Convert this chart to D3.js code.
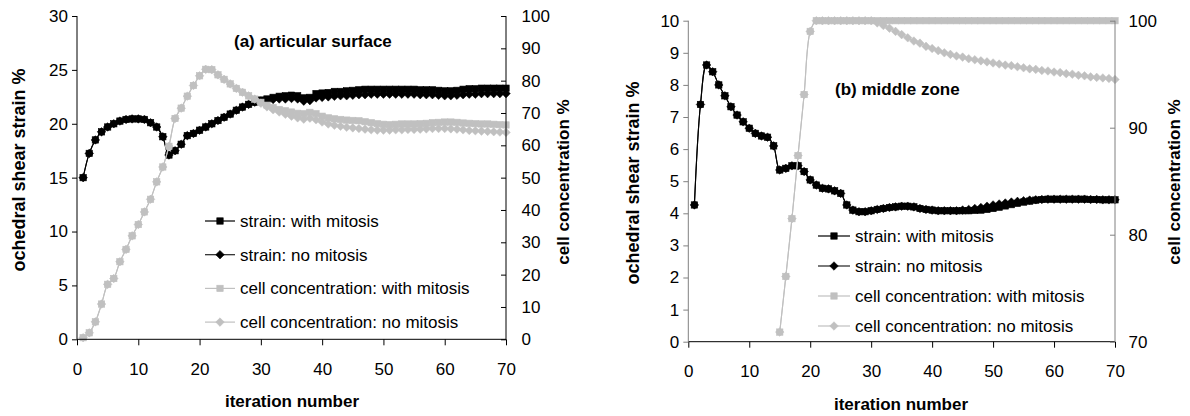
<!DOCTYPE html>
<html><head><meta charset="utf-8">
<script src="https://cdn.jsdelivr.net/npm/d3@7/dist/d3.min.js"></script>
<style>
html,body{margin:0;padding:0;background:#fff;}
text{font-family:"Liberation Sans",Arial,Helvetica,sans-serif;fill:#000;}
</style></head>
<body><svg id="c" width="1190" height="416"></svg>
<script>
// ---------- data ----------
const iterations = d3.range(1, 71);
const xTicks = [0,10,20,30,40,50,60,70];

// (a) articular surface
const aStrainMitosis = [15.0,17.25,18.5,19.25,19.7,20.0,20.25,20.4,20.45,20.45,
 20.4,20.1,19.7,18.8,17.1,17.5,18.1,18.9,19.1,19.4,
 19.7,20.0,20.3,20.6,20.9,21.25,21.55,21.8,22.0,22.2,
 22.3,22.45,22.55,22.6,22.65,22.6,22.4,22.45,22.8,22.85,
 22.9,23.0,23.0,23.05,23.1,23.15,23.2,23.2,23.2,23.2,
 23.2,23.2,23.2,23.2,23.2,23.15,23.15,23.15,23.1,23.05,
 23.05,23.1,23.2,23.25,23.25,23.3,23.3,23.3,23.3,23.3];
const aStrainNoMitosis = [15.0,17.25,18.5,19.25,19.7,20.0,20.25,20.4,20.45,20.45,
 20.4,20.1,19.7,18.8,17.1,17.5,18.1,18.9,19.1,19.4,
 19.7,20.0,20.3,20.6,20.9,21.25,21.55,21.8,22.0,22.1,
 22.15,22.25,22.3,22.3,22.35,22.3,22.1,22.15,22.4,22.45,
 22.5,22.55,22.6,22.6,22.65,22.7,22.7,22.75,22.75,22.75,
 22.75,22.75,22.75,22.75,22.75,22.7,22.7,22.7,22.65,22.6,
 22.6,22.65,22.7,22.75,22.75,22.8,22.8,22.8,22.8,22.8];
const aCellMitosis = [0.5,2.0,5.4,10.9,17.0,18.8,24.0,27.8,32.0,35.5,
 39.4,43.3,48.7,53.3,59.7,68.3,71.5,75.2,78.5,81.5,
 83.5,83.4,81.8,80.4,79.0,77.6,76.4,75.3,74.3,73.3,
 72.4,71.7,71.1,70.7,70.3,69.9,69.8,70.2,69.8,69.0,
 68.5,68.2,68.0,67.8,67.7,67.6,67.3,67.0,66.7,66.5,
 66.4,66.5,66.6,66.6,66.6,66.7,66.8,67.0,67.1,67.2,
 67.2,67.1,66.9,66.8,66.7,66.6,66.6,66.5,66.4,66.3];
const aCellNoMitosis = [0.5,2.0,5.4,10.9,17.0,18.8,24.0,27.8,32.0,35.5,
 39.4,43.3,48.7,53.3,59.7,68.3,71.5,75.2,78.5,81.5,
 83.5,83.4,81.8,80.4,79.0,77.6,76.4,75.3,74.3,73.0,
 71.9,71.0,70.3,69.6,69.0,68.5,68.1,68.4,67.9,67.2,
 66.6,66.2,65.9,65.6,65.4,65.2,65.0,64.8,64.7,64.7,
 64.7,64.8,64.8,64.9,64.9,65.0,65.1,65.2,65.2,65.2,
 65.1,65.0,64.8,64.6,64.5,64.4,64.3,64.2,64.1,64.0];

// (b) middle zone
const bStrainMitosis = [4.26,7.39,8.62,8.41,8.0,7.66,7.32,7.06,6.85,6.65,
 6.49,6.41,6.37,6.1,5.35,5.4,5.48,5.48,5.3,5.04,
 4.88,4.78,4.76,4.7,4.62,4.26,4.1,4.05,4.05,4.08,
 4.12,4.15,4.18,4.2,4.22,4.22,4.2,4.15,4.12,4.1,
 4.08,4.08,4.08,4.08,4.08,4.08,4.09,4.1,4.12,4.15,
 4.19,4.23,4.27,4.31,4.35,4.38,4.41,4.43,4.44,4.44,
 4.44,4.44,4.44,4.44,4.44,4.43,4.43,4.42,4.42,4.42];
const bStrainNoMitosis = [4.26,7.39,8.62,8.41,8.0,7.66,7.32,7.06,6.85,6.65,
 6.49,6.41,6.37,6.1,5.35,5.4,5.48,5.48,5.3,5.04,
 4.88,4.78,4.76,4.7,4.62,4.26,4.1,4.05,4.05,4.08,
 4.12,4.15,4.18,4.2,4.22,4.22,4.2,4.15,4.12,4.1,
 4.08,4.08,4.08,4.08,4.1,4.12,4.15,4.18,4.22,4.26,
 4.29,4.32,4.35,4.37,4.39,4.41,4.42,4.43,4.44,4.44,
 4.44,4.44,4.44,4.44,4.44,4.43,4.43,4.42,4.42,4.42];
const bCellMitosis = [null,null,null,null,null,null,null,null,null,null,
 null,null,null,null,70.9,76.1,81.5,87.4,93.1,99.0,
 100,100,100,100,100,100,100,100,100,100,
 100,100,100,100,100,100,100,100,100,100,
 100,100,100,100,100,100,100,100,100,100,
 100,100,100,100,100,100,100,100,100,100,
 100,100,100,100,100,100,100,100,100,100];
const bCellNoMitosis = [null,null,null,null,null,null,null,null,null,null,
 null,null,null,null,70.9,76.1,81.5,87.4,93.1,99.0,
 100,100,100,100,100,100,100,100,100,100,
 99.8,99.55,99.3,99.0,98.7,98.4,98.1,97.9,97.6,97.4,
 97.2,97.0,96.85,96.7,96.6,96.45,96.35,96.25,96.15,96.05,
 95.95,95.85,95.8,95.7,95.6,95.5,95.45,95.35,95.3,95.2,
 95.15,95.05,95.0,94.9,94.85,94.75,94.7,94.65,94.6,94.5];

const aLeftTicks = [0,5,10,15,20,25,30];
const aRightTicks = [0,10,20,30,40,50,60,70,80,90,100];
const bLeftTicks = [0,1,2,3,4,5,6,7,8,9,10];
const bRightTicks = [70,80,90,100];

const legendLabels = ["strain: with mitosis","strain: no mitosis","cell concentration: with mitosis","cell concentration: no mitosis"];
const seriesColors = ["#000000","#000000","#c0c0c0","#c0c0c0"];
const seriesMarkers = ["square","diamond","square","diamond"];

// ---------- drawing ----------
const svg = d3.select("#c");
const FS = 17;

function marker(g, type, x, y, color){
  if(type === "square"){
    g.append("rect").attr("x", x-3.2).attr("y", y-3.2).attr("width",6.4).attr("height",6.4)
     .attr("fill", color).attr("stroke", color).attr("stroke-width",0.6);
  } else {
    g.append("path").attr("d", `M${x},${y-4.3}L${x+4.3},${y}L${x},${y+4.3}L${x-4.3},${y}Z`)
     .attr("fill", color).attr("stroke", color).attr("stroke-width",0.5);
  }
}

function drawChart(cfg){
  const g = svg.append("g");
  const x = d3.scaleLinear().domain([0,70]).range([cfg.x0, cfg.x1]);
  const yL = d3.scaleLinear().domain(cfg.leftDomain).range([cfg.yBottom, cfg.yTop]);
  const yR = d3.scaleLinear().domain(cfg.rightDomain).range([cfg.yBottom, cfg.yTop]);

  const series = [
    {vals: cfg.s[0], y: yL},
    {vals: cfg.s[1], y: yL},
    {vals: cfg.s[2], y: yR},
    {vals: cfg.s[3], y: yR}
  ];
  series.forEach((s,i)=>{
    const pts = iterations.map((it,k)=>({it, v:s.vals[k]})).filter(d=>d.v!==null);
    const line = d3.line().x(d=>x(d.it)).y(d=>s.y(d.v)).curve(d3.curveCatmullRom.alpha(0.5));
    g.append("path").attr("d", line(pts)).attr("fill","none")
      .attr("stroke", seriesColors[i]).attr("stroke-width",1.1);
    const mg = g.append("g");
    pts.forEach(d=>marker(mg, seriesMarkers[i], x(d.it), s.y(d.v), seriesColors[i]));
  });

  // axes
  const axB = d3.axisBottom(x).tickValues(xTicks).tickSize(6).tickPadding(cfg.xPad);
  const gx = g.append("g").attr("transform",`translate(0,${cfg.yBottom})`).call(axB);
  const axL = d3.axisLeft(yL).tickValues(cfg.leftTicks).tickSize(5).tickPadding(4);
  const gl = g.append("g").attr("transform",`translate(${cfg.x0},0)`).call(axL);
  const axR = d3.axisRight(yR).tickValues(cfg.rightTicks).tickSize(-5).tickPadding(cfg.rPad);
  const gr = g.append("g").attr("transform",`translate(${cfg.x1},0)`).call(axR);
  [gx,gl,gr].forEach(a=>{
    a.selectAll("text").attr("font-size",FS).attr("font-family",'"Liberation Sans",Arial,sans-serif').attr("fill","#000");
    a.select(".domain").attr("stroke",cfg.axisColor||"#000");
    a.selectAll(".tick line").attr("stroke",cfg.axisColor||"#000");
  });
  gx.select(".domain").attr("stroke","#000");
  gx.selectAll(".tick line").attr("stroke","#000");
  gl.select(".domain").attr("d", `M0,${cfg.yBottom}V${cfg.yTop}`);
  gr.select(".domain").attr("d", `M0,${cfg.yBottom}V${cfg.yTop}`);
  gx.select(".domain").attr("d", `M${cfg.x0},0H${cfg.x1}`);

  // titles & labels
  g.append("text").attr("x",cfg.titleX).attr("y",cfg.titleY).attr("font-size",FS)
    .attr("font-weight","bold").text(cfg.title);
  g.append("text").attr("x",cfg.xLabelX).attr("y",cfg.xLabelY).attr("text-anchor","middle")
    .attr("font-size",FS).attr("font-weight","bold").text("iteration number");
  g.append("text").attr("transform",`translate(${cfg.yLX},${cfg.yLY}) rotate(-90)`)
    .attr("text-anchor","middle").attr("dy","0.35em").attr("font-size",18).attr("font-weight","bold")
    .text("ochedral shear strain %");
  g.append("text").attr("transform",`translate(${cfg.yRX},${cfg.yRY}) rotate(-90)`)
    .attr("text-anchor","middle").attr("dy","0.35em").attr("font-size",FS).attr("font-weight","bold")
    .text("cell concentration %");

  // legend
  const lg = g.append("g");
  legendLabels.forEach((lab,i)=>{
    const yy = cfg.legY + i*cfg.legStep;
    lg.append("line").attr("x1",cfg.legX).attr("x2",cfg.legX+cfg.legW).attr("y1",yy).attr("y2",yy)
      .attr("stroke", i===1 ? "#222" : seriesColors[i]).attr("stroke-width",1.2);
    marker(lg, seriesMarkers[i], cfg.legX+cfg.legW/2, yy, seriesColors[i]);
    lg.append("text").attr("x",cfg.legX+cfg.legW+5).attr("y",yy).attr("dy","0.35em")
      .attr("font-size",FS).text(lab);
  });
}

drawChart({
  x0:77, x1:506, yTop:16, yBottom:339.3,
  leftDomain:[0,30], rightDomain:[0,100],
  leftTicks:aLeftTicks, rightTicks:aRightTicks,
  s:[aStrainMitosis,aStrainNoMitosis,aCellMitosis,aCellNoMitosis],
  xPad:17.5, rPad:15.5,
  title:"(a) articular surface", titleX:234, titleY:47,
  xLabelX:292, xLabelY:407,
  yLX:19, yLY:170, yRX:563, yRY:182,
  legX:205, legW:30, legY:221, legStep:33.7
});
drawChart({
  x0:688.3, x1:1115, yTop:20.7, yBottom:341.7,
  leftDomain:[0,10], rightDomain:[70,100],
  leftTicks:bLeftTicks, rightTicks:bRightTicks,
  s:[bStrainMitosis,bStrainNoMitosis,bCellMitosis,bCellNoMitosis],
  xPad:17, rPad:13.5,
  axisColor:"#808080",
  title:"(b) middle zone", titleX:835, titleY:95,
  xLabelX:901, xLabelY:410,
  yLX:633, yLY:183, yRX:1174, yRY:182,
  legX:818, legW:32, legY:236, legStep:30
});
</script></body></html>
